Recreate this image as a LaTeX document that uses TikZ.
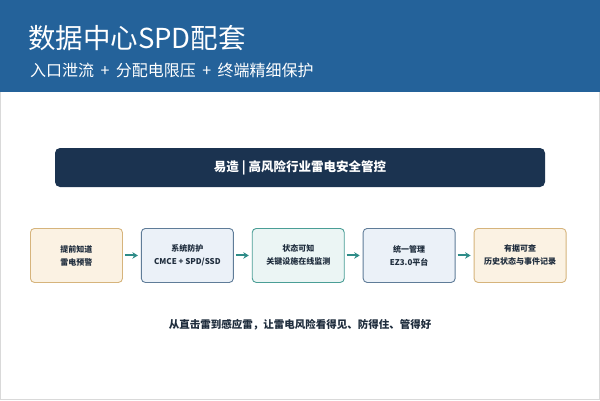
\documentclass[tikz,border=0pt]{standalone}
\usepackage{fontspec}
\setmainfont{Noto Sans CJK SC}
\usepackage{xcolor}
\usetikzlibrary{arrows.meta,positioning}
\definecolor{header}{HTML}{24629A}
\definecolor{navy}{HTML}{1B3350}
\definecolor{ink}{HTML}{1F2D3D}
\definecolor{flow}{HTML}{2E8C88}
\definecolor{warmfill}{HTML}{FBF2E3}
\definecolor{warmline}{HTML}{D6B47C}
\definecolor{coolfill}{HTML}{EBF1F8}
\definecolor{coolline}{HTML}{5F7C98}
\definecolor{calmfill}{HTML}{EBF5F4}
\definecolor{calmline}{HTML}{4A9E96}
\newcommand{\plussep}{\hspace{0.4em}+\hspace{0.4em}}

\begin{document}
\begin{tikzpicture}[
    x=1pt,y=-1pt,
    node distance=18pt,
    stagebox/.style={draw,rounded corners=4pt,line width=0.9pt,minimum width=92pt,minimum height=54pt,inner sep=0pt,align=center,text=ink,font=\fontsize{8}{13}\selectfont\bfseries},
    warm/.style={stagebox,fill=warmfill,draw=warmline},
    cool/.style={stagebox,fill=coolfill,draw=coolline},
    calm/.style={stagebox,fill=calmfill,draw=calmline},
    arrow/.style={-{Stealth[length=5.5pt,width=6.5pt]},line width=2pt,draw=flow,shorten <=2pt,shorten >=3pt}
  ]
    \useasboundingbox (0,0) rectangle (600,400);
    \fill[white] (0,0) rectangle (600,400);
    \draw[gray!30,line width=1pt] (0.5,0.5) rectangle (599.5,399.5);
    \fill[header] (0,0) rectangle (600,92);
    \node[anchor=west,inner sep=0pt,text=white,font=\fontsize{27.5}{30}\selectfont] (title) at (28,38) {数据中心SPD配套};
    \node[anchor=west,inner sep=0pt,text=white,font=\fontsize{16}{18}\selectfont] (subtitle) at (30,70) {入口泄流\plussep 分配电限压\plussep 终端精细保护};
    \node[fill=navy,rounded corners=5pt,minimum width=490pt,minimum height=39pt,text=white,font=\fontsize{12.5}{14}\selectfont\bfseries] (banner) at (300,167.5) {易造 | 高风险行业雷电安全管控};
    \node[warm,anchor=north west] (s1) at (30,228) {提前知道\\雷电预警};
    \node[cool,right=of s1] (s2) {系统防护\\CMCE + SPD/SSD};
    \node[calm,right=of s2] (s3) {状态可知\\关键设施在线监测};
    \node[cool,right=of s3] (s4) {统一管理\\EZ3.0平台};
    \node[warm,right=of s4] (s5) {有据可查\\历史状态与事件记录};
    \draw[arrow] (s1) -- (s2);
    \draw[arrow] (s2) -- (s3);
    \draw[arrow] (s3) -- (s4);
    \draw[arrow] (s4) -- (s5);
    \node[text=ink,font=\fontsize{10.5}{12}\selectfont\bfseries] (slogan) at (300,325) {从直击雷到感应雷，让雷电风险看得见、防得住、管得好};
\end{tikzpicture}
\end{document}
